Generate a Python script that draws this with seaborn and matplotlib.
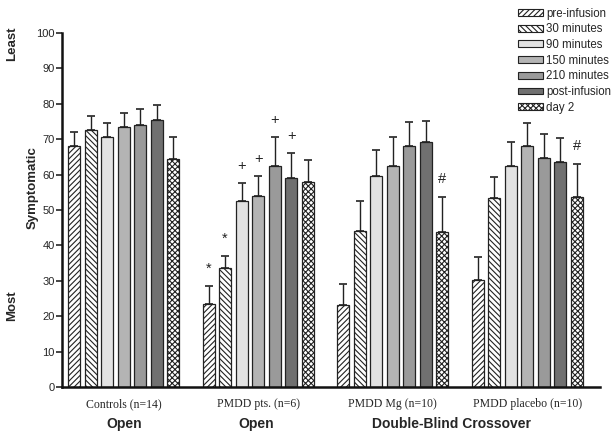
import numpy as np
import pandas as pd
import matplotlib
matplotlib.use("Agg")
import matplotlib.pyplot as plt
import seaborn as sns
from matplotlib.patches import Patch

groups = ["Controls (n=14)", "PMDD pts. (n=6)", "PMDD Mg (n=10)", "PMDD placebo (n=10)"]
series = ["pre-infusion", "30 minutes", "90 minutes", "150 minutes", "210 minutes", "post-infusion", "day 2"]
controls = [68.0, 72.5, 70.5, 73.5, 74.0, 75.5, 64.5]
controls_err = [4.0, 4.0, 4.0, 4.0, 4.5, 4.0, 6.0]
pmdd_pts = [23.5, 33.5, 52.5, 54.0, 62.5, 59.0, 58.0]
pmdd_pts_err = [5.0, 3.5, 5.0, 5.5, 8.0, 7.0, 6.0]
pmdd_mg = [23.3, 44.0, 59.5, 62.5, 68.0, 69.2, 43.7]
pmdd_mg_err = [5.7, 8.5, 7.5, 8.0, 6.8, 5.8, 10.0]
pmdd_placebo = [30.2, 53.3, 62.3, 68.0, 64.8, 63.6, 53.7]
pmdd_placebo_err = [6.6, 6.0, 6.9, 6.5, 6.5, 6.8, 9.3]
marks = {(1, 0): "*", (1, 1): "*", (1, 2): "+", (1, 3): "+", (1, 4): "+", (1, 5): "+",
         (2, 6): "#", (3, 6): "#"}
design = ["Open", "Open", "Double-Blind Crossover"]

values = [controls, pmdd_pts, pmdd_mg, pmdd_placebo]
errors = [controls_err, pmdd_pts_err, pmdd_mg_err, pmdd_placebo_err]
rows = []
for g, vals, errs in zip(groups, values, errors):
    for s, v, e in zip(series, vals, errs):
        rows.append({"group": g, "series": s, "value": v, "err": e})
df = pd.DataFrame(rows)

colors = ["white", "white", "#e2e2e2", "#b4b4b4", "#9a9a9a", "#707070", "white"]
hatches = ["//////", "\\\\\\\\\\\\", "", "", "", "", "xxxxxx"]

sns.set_style("white")
plt.rcParams["font.family"] = ["Liberation Sans", "DejaVu Sans"]
plt.rcParams["hatch.linewidth"] = 0.8

fig = plt.figure(figsize=(6.11, 4.32), dpi=100)
ax = fig.add_axes([0.101, 0.104, 0.881, 0.82])

sns.barplot(data=df, x="group", y="value", hue="series", order=groups, hue_order=series,
            palette=colors, width=0.86, gap=0.27, edgecolor="#222222", linewidth=0.9,
            errorbar=None, legend=False, ax=ax)

for j, s in enumerate(series):
    cont = ax.containers[j]
    for i, bar in enumerate(cont):
        bar.set_hatch(hatches[j])
        x = bar.get_x() + bar.get_width() / 2
        v = values[i][j]
        e = errors[i][j]
        ax.errorbar([x], [v], yerr=[[0], [e]], fmt="none", ecolor="#222222",
                    elinewidth=1.0, capsize=3, capthick=1.2, zorder=3)
        if (i, j) in marks:
            ax.text(x, v + e + 3.0, marks[(i, j)], ha="center", va="bottom",
                    fontsize=10.5, color="#222222")

ax.set_xlim(-0.46, 3.54)
ax.set_ylim(0, 100)
ax.set_yticks(np.arange(0, 101, 10))
ax.tick_params(axis="y", length=4, width=1.2, labelsize=8, direction="out", left=True, pad=1)
ax.tick_params(axis="x", length=0, pad=8)
ax.set_xticks(range(4))
ax.set_xticklabels(groups, fontfamily="Liberation Serif", fontsize=8.5)
ax.set_xlabel("")
ax.set_ylabel("")
for sp in ["top", "right"]:
    ax.spines[sp].set_visible(False)
for sp in ["left", "bottom"]:
    ax.spines[sp].set_linewidth(1.8)
    ax.spines[sp].set_color("#111111")

# design labels
fig.text(124 / 611, 1 - 424 / 432, design[0], ha="center", va="center", fontsize=10, fontweight="bold")
fig.text(256 / 611, 1 - 424 / 432, design[1], ha="center", va="center", fontsize=10, fontweight="bold")
fig.text(451 / 611, 1 - 424 / 432, design[2], ha="center", va="center", fontsize=10, fontweight="bold")

# y labels
fig.text(12 / 611, 1 - 44 / 432, "Least", rotation=90, ha="center", va="center", fontsize=9.5, fontweight="bold")
fig.text(33 / 611, 1 - 188 / 432, "Symptomatic", rotation=90, ha="center", va="center", fontsize=9.5, fontweight="bold")
fig.text(12 / 611, 1 - 306 / 432, "Most", rotation=90, ha="center", va="center", fontsize=9.5, fontweight="bold")

# legend
handles = [Patch(facecolor=c, edgecolor="#222222", hatch=h, linewidth=0.8) for c, h in zip(colors, hatches)]
leg = fig.legend(handles, series, loc="upper left", bbox_to_anchor=(513 / 611, 1 - 3 / 432),
                 frameon=False, fontsize=8.3, handlelength=2.2, handleheight=0.55,
                 handletextpad=0.25, labelspacing=0.32, borderaxespad=0)

fig.savefig("out.png", dpi=100)
